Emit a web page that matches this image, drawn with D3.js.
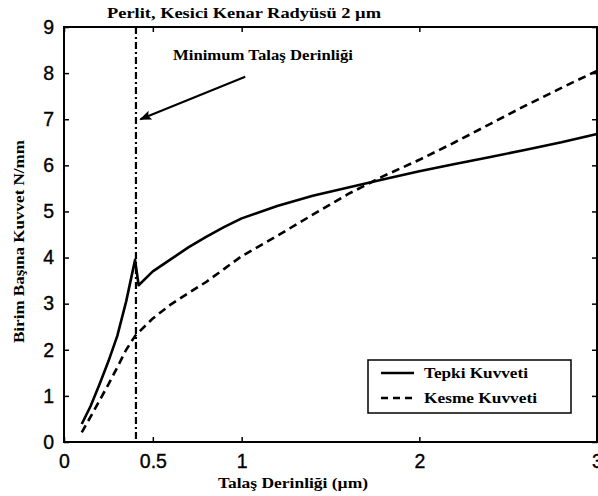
<!DOCTYPE html>
<html><head><meta charset="utf-8">
<script src="https://cdn.jsdelivr.net/npm/d3@7"></script>
<style>body{margin:0;background:#fff;overflow:hidden}</style>
</head><body><svg id="c" width="598" height="496"></svg>
<script>
const depth = [0.1,0.15,0.2,0.25,0.3,0.35,0.4,0.42,0.5,0.6,0.7,0.8,0.9,1.0,1.2,1.4,1.6,1.8,2.0,2.2,2.4,2.6,2.8,3.0];
const tepki = [0.39,0.78,1.25,1.75,2.3,3.05,3.95,3.4,3.7,3.96,4.22,4.45,4.66,4.85,5.12,5.34,5.52,5.7,5.87,6.03,6.18,6.34,6.5,6.68];
const kesme = [0.21,0.55,0.9,1.25,1.62,2.0,2.3,2.38,2.68,2.98,3.23,3.47,3.75,4.03,4.47,4.93,5.38,5.77,6.12,6.5,6.9,7.3,7.68,8.05];
const seriesNames = ["Tepki Kuvveti","Kesme Kuvveti"];
const xTicks = [0,0.5,1,2,3];
const xTickLabels = ["0","0.5","1","2","3"];
const yTicks = [0,1,2,3,4,5,6,7,8,9];
const minDepth = 0.405;
const arrowFrom = [1.02,7.92];
const arrowTo = [0.43,7.0];
const titleText = "Perlit, Kesici Kenar Radyüsü 2 µm";
const annotText = "Minimum Talaş Derinliği";
const xLabel = "Talaş Derinliği (µm)";
const yLabel = "Birim Başına Kuvvet N/mm";

const svg = d3.select("#c");
const L=64, R=597, T=27, B=442;
const x = d3.scaleLinear().domain([0,3]).range([L,R]);
const y = d3.scaleLinear().domain([0,9]).range([B,T]);
const serif = "'Liberation Serif','Times New Roman',serif";
const sans = "'Liberation Sans',Arial,Helvetica,sans-serif";

const defs = svg.append("defs");
defs.append("marker").attr("id","ah").attr("viewBox","0 0 10 10").attr("refX",9).attr("refY",5)
  .attr("markerWidth",6).attr("markerHeight",6).attr("markerUnits","strokeWidth").attr("orient","auto")
  .append("path").attr("d","M0,1 L10,5 L0,9 L2,5 Z").attr("fill","#000");

// lines
const line = d3.line().x((d,i)=>x(depth[i])).y(d=>y(d));
svg.append("path").datum(tepki).attr("d",line).attr("fill","none").attr("stroke","#000").attr("stroke-width",2.6).attr("stroke-linejoin","round");
svg.append("path").datum(kesme).attr("d",line).attr("fill","none").attr("stroke","#000").attr("stroke-width",2.6).attr("stroke-dasharray","8,5");

// vertical dash-dot
svg.append("line").attr("x1",x(minDepth)).attr("x2",x(minDepth)).attr("y1",y(9)).attr("y2",y(0))
  .attr("stroke","#000").attr("stroke-width",2.2).attr("stroke-dasharray","7,3,2,3");

// arrow
svg.append("line").attr("x1",x(arrowFrom[0])).attr("y1",y(arrowFrom[1])).attr("x2",x(arrowTo[0])).attr("y2",y(arrowTo[1]))
  .attr("stroke","#000").attr("stroke-width",2).attr("marker-end","url(#ah)");

// axes box
svg.append("rect").attr("x",L).attr("y",T).attr("width",R-L).attr("height",B-T).attr("fill","none").attr("stroke","#000").attr("stroke-width",2);

const axB = d3.axisBottom(x).tickValues(xTicks).tickFormat((d,i)=>xTickLabels[i]).tickSizeInner(-5).tickSizeOuter(0).tickPadding(12);
const gb = svg.append("g").attr("transform",`translate(0,${B})`).call(axB);
const axT = d3.axisTop(x).tickValues(xTicks).tickFormat("").tickSizeInner(-5).tickSizeOuter(0);
const gt = svg.append("g").attr("transform",`translate(0,${T})`).call(axT);
const axL = d3.axisLeft(y).tickValues(yTicks).tickFormat(d3.format("d")).tickSizeInner(-5).tickSizeOuter(0).tickPadding(10);
const gl = svg.append("g").attr("transform",`translate(${L},0)`).call(axL);
const axR = d3.axisRight(y).tickValues(yTicks).tickFormat("").tickSizeInner(-5).tickSizeOuter(0);
const gr = svg.append("g").attr("transform",`translate(${R},0)`).call(axR);
[gb,gt,gl,gr].forEach(g=>{
  g.select(".domain").remove();
  g.selectAll(".tick line").attr("stroke","#000").attr("stroke-width",1.5);
  g.selectAll("text").attr("font-family",sans).attr("font-size",19.5).attr("fill","#000")
    .attr("stroke","#000").attr("stroke-width",0.35);
});
gb.selectAll("text").attr("dy","0.71em");

// title & labels
svg.append("text").attr("x",244).attr("y",18).attr("text-anchor","middle").attr("font-family",serif).attr("font-weight","bold")
  .attr("font-size",15).attr("textLength",274).attr("lengthAdjust","spacingAndGlyphs").text(titleText);
svg.append("text").attr("x",173).attr("y",60).attr("font-family",serif).attr("font-weight","bold")
  .attr("font-size",15).attr("textLength",180).attr("lengthAdjust","spacingAndGlyphs").text(annotText);
svg.append("text").attr("x",293).attr("y",488).attr("text-anchor","middle").attr("font-family",serif).attr("font-weight","bold")
  .attr("font-size",14.5).attr("textLength",150).attr("lengthAdjust","spacingAndGlyphs").text(xLabel);
svg.append("text").attr("transform","translate(24,241.5) rotate(-90)").attr("text-anchor","middle").attr("font-family",serif).attr("font-weight","bold")
  .attr("font-size",14).attr("textLength",203).attr("lengthAdjust","spacingAndGlyphs").text(yLabel);

// legend
svg.append("rect").attr("x",368).attr("y",360).attr("width",203).attr("height",53).attr("fill","#fff").attr("stroke","#000").attr("stroke-width",1.5);
const legY = [373,398];
const legDash = [null,"7,5"];
const legLen = [104,113];
seriesNames.forEach((n,i)=>{
  svg.append("line").attr("x1",381).attr("x2",414).attr("y1",legY[i]).attr("y2",legY[i]).attr("stroke","#000").attr("stroke-width",2.6)
    .attr("stroke-dasharray",legDash[i]);
  svg.append("text").attr("x",424).attr("y",legY[i]+5).attr("font-family",serif).attr("font-weight","bold").attr("font-size",14.5)
    .attr("textLength",legLen[i]).attr("lengthAdjust","spacingAndGlyphs").text(n);
});
</script></body></html>
